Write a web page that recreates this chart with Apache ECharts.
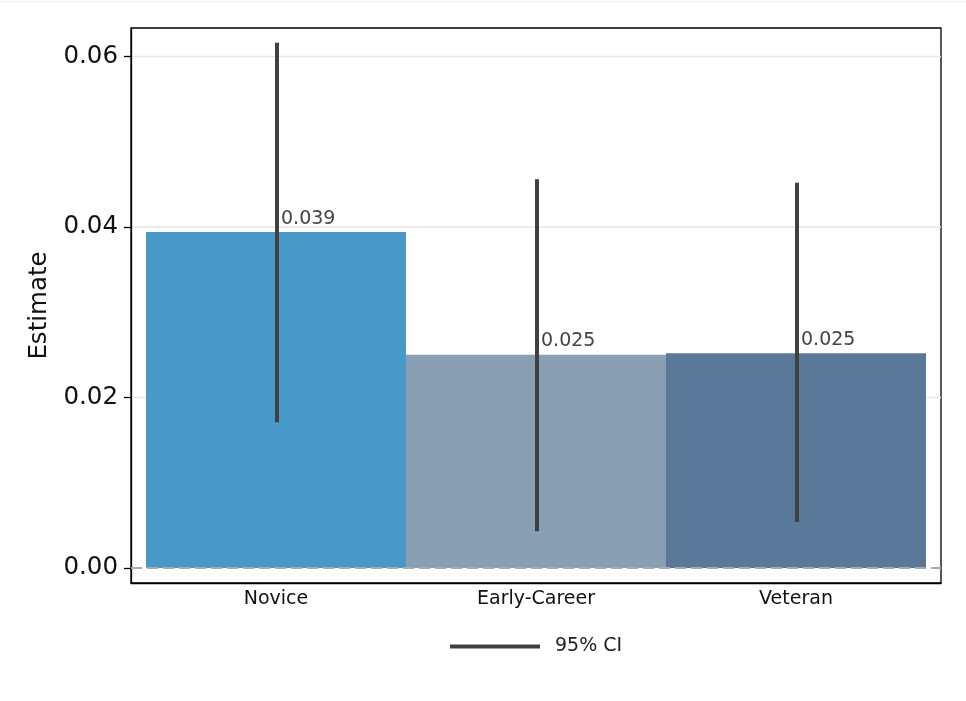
<!DOCTYPE html>
<html>
<head>
<meta charset="utf-8">
<script src="https://cdn.jsdelivr.net/npm/echarts@6/dist/echarts.min.js"></script>
<style>
  html, body { margin: 0; padding: 0; background: #fff; }
  #chart { width: 966px; height: 701px; }
</style>
</head>
<body>
<div id="chart"></div>
<script>
// Group estimates with 95% confidence intervals
const categories = ['Novice', 'Early-Career', 'Veteran'];
const estimates = [0.0394, 0.0250, 0.0252];
const ciLower = [0.0171, 0.0043, 0.0054];
const ciUpper = [0.0616, 0.0456, 0.0452];
const barColors = ['#4899c8', '#889fb4', '#5a7998'];
const yTicks = [0, 0.02, 0.04, 0.06];
const catPositions = [0, 1, 2];

const FONT = 'DejaVu Sans';
const chart = echarts.init(document.getElementById('chart'), null, { renderer: 'canvas' });

// Horizontal line spanning the full plot width at a given y value
function hLine(params, api, style) {
  const cs = params.coordSys;
  const y = api.coord([0, api.value(0)])[1];
  return {
    type: 'line',
    shape: { x1: cs.x, y1: y, x2: cs.x + cs.width, y2: y },
    style: style,
    silent: true
  };
}

chart.setOption({
  animation: false,
  backgroundColor: '#ffffff',
  textStyle: { fontFamily: FONT },
  graphic: [{
    type: 'line', shape: { x1: 0, y1: 1.5, x2: 966, y2: 1.5 },
    style: { stroke: '#eeeeee', lineWidth: 1 }, silent: true
  }],
  grid: {
    left: 131, right: 25, top: 28, bottom: 118,
    show: true, borderColor: '#000', borderWidth: 1.3, backgroundColor: 'transparent'
  },
  legend: {
    data: [{ name: '95% CI', icon: 'rect', itemStyle: { color: '#404040' } }],
    top: 632, left: 445,
    itemWidth: 90, itemHeight: 4,
    textStyle: { fontFamily: FONT, fontSize: 19, color: '#222', padding: [0, 0, 0, 10] }
  },
  xAxis: {
    type: 'value',
    min: -0.5577, max: 2.5577,
    axisLine: { show: true, onZero: false, lineStyle: { color: '#000', width: 1.3 } },
    axisTick: { show: false },
    axisLabel: {
      customValues: catPositions,
      fontFamily: FONT, fontSize: 19, color: '#111', margin: 7,
      formatter: v => categories[Math.round(v)]
    },
    splitLine: { show: false }
  },
  yAxis: {
    type: 'value',
    min: -0.00176, max: 0.06334,
    name: 'Estimate', nameLocation: 'middle', nameGap: 77,
    nameTextStyle: { fontFamily: FONT, fontSize: 24.5, color: '#111' },
    axisLine: { show: true, onZero: false, lineStyle: { color: '#000', width: 1.3 } },
    axisTick: { show: true, customValues: yTicks, length: 7, lineStyle: { color: '#000', width: 1.3 } },
    axisLabel: {
      customValues: yTicks, fontFamily: FONT, fontSize: 24.5, color: '#111', margin: 13,
      formatter: v => v.toFixed(2)
    },
    splitLine: { show: false }
  },
  series: [
    {
      // light guide lines behind the bars
      type: 'custom', name: 'grid', silent: true, z: 0,
      data: yTicks.filter(v => v > 0).map(v => [v]),
      encode: { y: 0 },
      renderItem: (params, api) => hLine(params, api, { stroke: '#e6e6e6', lineWidth: 1.5 })
    },
    {
      type: 'bar',
      name: 'Estimate',
      barWidth: 260,
      z: 2,
      data: estimates.map((v, i) => ({ value: [catPositions[i], v], itemStyle: { color: barColors[i] } })),
      label: {
        show: true,
        position: [135, -4],
        align: 'left', verticalAlign: 'bottom',
        fontFamily: FONT, fontSize: 19, color: '#444',
        formatter: p => p.value[1].toFixed(3)
      }
    },
    {
      // dashed reference line at zero, over the bars
      type: 'custom', name: 'zero', silent: true, z: 5,
      data: [[0]],
      encode: { y: 0 },
      renderItem: (params, api) => hLine(params, api, { stroke: '#aaaaaa', lineWidth: 2, lineDash: [11, 5] })
    },
    {
      type: 'custom',
      name: '95% CI',
      z: 4,
      itemStyle: { color: '#404040' },
      data: catPositions.map((x, i) => [x, ciLower[i], ciUpper[i]]),
      encode: { x: 0, y: [1, 2] },
      renderItem: function (params, api) {
        const lo = api.coord([api.value(0), api.value(1)]);
        const hi = api.coord([api.value(0), api.value(2)]);
        return {
          type: 'line',
          shape: { x1: lo[0] + 1, y1: lo[1], x2: hi[0] + 1, y2: hi[1] },
          style: { stroke: '#404040', lineWidth: 4 }
        };
      }
    }
  ]
});
</script>
</body>
</html>
